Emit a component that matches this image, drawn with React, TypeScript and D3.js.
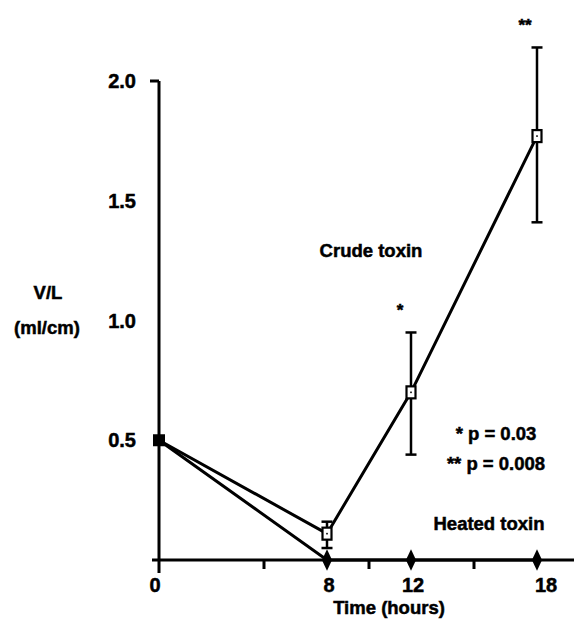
import React from 'react';
import * as d3 from 'd3';

// hours after exposure
const hours = [0, 8, 12, 18];
// crude toxin: mean V/L and error bar ends
const crudeMean = [0.5, 0.11, 0.7, 1.77];
const crudeLow = [0.5, 0.05, 0.44, 1.41];
const crudeHigh = [0.5, 0.16, 0.95, 2.14];
// heated toxin
const heatedMean = [0.5, 0, 0, 0];

const majorTicks = [0, 8, 12, 18];
const minorTicks = [5, 10, 15];
const yTicks = [0.5, 1.0, 1.5, 2.0];

const W = 574;
const H = 627;
const font = "'Liberation Sans', Arial, Helvetica, sans-serif";

const App: React.FC = () => {
  const x = d3.scaleLinear().domain([0, 18]).range([159, 537]);
  const y = d3.scaleLinear().domain([0, 2]).range([560, 81]);

  const line = d3.line<[number, number]>()
    .x(d => x(d[0]))
    .y(d => y(d[1]));

  const crudePts = hours.map((h, i) => [h, crudeMean[i]] as [number, number]);
  const heatedPts = hours.map((h, i) => [h, heatedMean[i]] as [number, number]);

  const diamond = d3.symbol().type(d3.symbolDiamond).size(110)() as string;

  return (
    <svg width={W} height={H} style={{ position: 'absolute', left: 0, top: 0, background: '#fff' }}
      fontFamily={font} fontWeight="bold">
      <g stroke="#000" strokeWidth={0.5}>
        {yTicks.map(t => (
          <text key={t} x={136} y={y(t) + 7} textAnchor="end" fontSize={20}>{t.toFixed(1)}</text>
        ))}
        {majorTicks.map(t => (
          <text key={t} x={x(t) + (t === 18 ? 9 : t === 0 ? -4 : 2)} y={592} textAnchor="middle" fontSize={20}>{t}</text>
        ))}
        <text x={389} y={614} textAnchor="middle" fontSize={18.5}>Time  (hours)</text>
        <text x={48} y={299} textAnchor="middle" fontSize={18.5}>V/L</text>
        <text x={47} y={334} textAnchor="middle" fontSize={18.5}>(ml/cm)</text>
        <text x={371} y={257} textAnchor="middle" fontSize={18.5}>Crude toxin</text>
        <text x={x(12) - 11} y={316} textAnchor="middle" fontSize={17}>*</text>
        <text x={x(18) - 12} y={31} textAnchor="middle" fontSize={17}>**</text>
        <text x={496} y={440} textAnchor="middle" fontSize={18.5}>* p = 0.03</text>
        <text x={496} y={470} textAnchor="middle" fontSize={18.5}>** p = 0.008</text>
        <text x={489} y={530} textAnchor="middle" fontSize={18.5}>Heated  toxin</text>
      </g>

      {/* y axis */}
      <line x1={x(0)} x2={x(0)} y1={y(2)} y2={573} stroke="#000" strokeWidth={3} />
      <line x1={x(0) - 9} x2={x(0)} y1={y(2)} y2={y(2)} stroke="#000" strokeWidth={3} />
      {/* x axis */}
      <line x1={152} x2={W} y1={y(0)} y2={y(0)} stroke="#000" strokeWidth={3} />
      {minorTicks.map(t => (
        <line key={t} x1={x(t)} x2={x(t)} y1={y(0)} y2={y(0) + 9} stroke="#000" strokeWidth={3} />
      ))}

      {/* lines */}
      <path d={line(heatedPts) || ''} fill="none" stroke="#000" strokeWidth={3} />
      <path d={line(crudePts) || ''} fill="none" stroke="#000" strokeWidth={3} />

      {/* error bars */}
      {hours.map((h, i) => i === 0 ? null : (
        <g key={h} stroke="#000" strokeWidth={2.5}>
          <line x1={x(h)} x2={x(h)} y1={y(crudeLow[i])} y2={y(crudeHigh[i])} />
          <line x1={x(h) - 5.5} x2={x(h) + 5.5} y1={y(crudeLow[i])} y2={y(crudeLow[i])} />
          <line x1={x(h) - 5.5} x2={x(h) + 5.5} y1={y(crudeHigh[i])} y2={y(crudeHigh[i])} />
        </g>
      ))}

      {/* crude toxin markers: open squares */}
      {crudePts.slice(1).map(([h, v]) => (
        <g key={h}>
          <rect x={x(h) - 4.5} y={y(v) - 6} width={9} height={12} fill="#fff" stroke="#000" strokeWidth={2.2} />
          <rect x={x(h) - 0.8} y={y(v) - 0.8} width={1.6} height={1.6} fill="#000" />
        </g>
      ))}

      {/* heated toxin markers */}
      <rect x={x(0) - 6} y={y(heatedMean[0]) - 6} width={12} height={12} fill="#000" />
      {heatedPts.slice(1).map(([h, v]) => (
        <path key={h} d={diamond} transform={`translate(${x(h)},${y(v)}) scale(0.9,1.1)`} fill="#000" />
      ))}
    </svg>
  );
};

export default App;
